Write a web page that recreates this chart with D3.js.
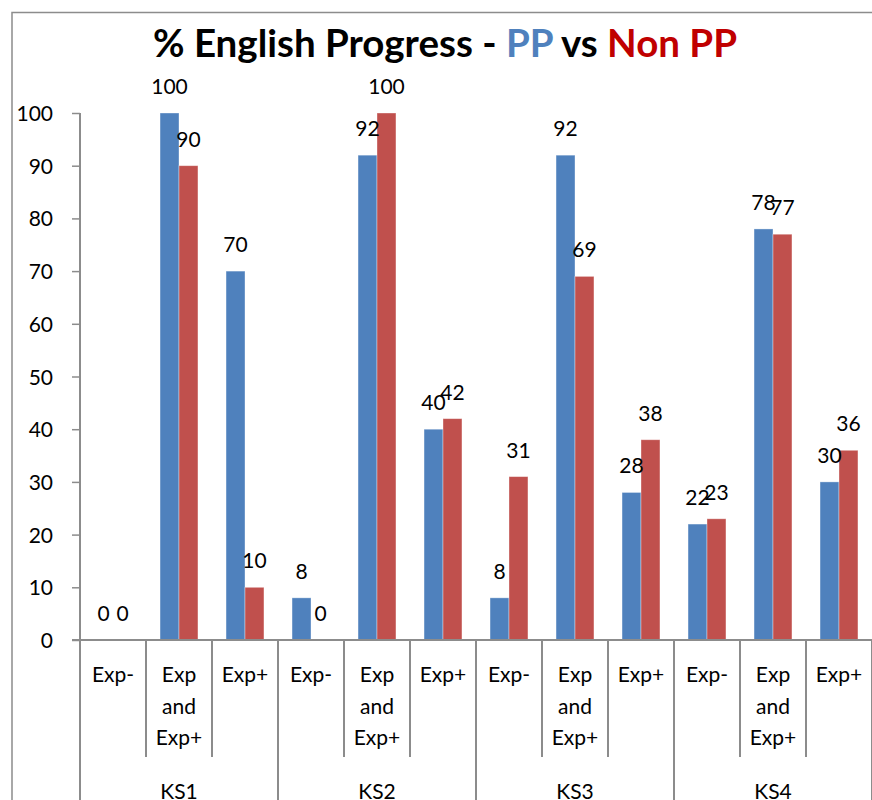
<!DOCTYPE html>
<html>
<head>
<meta charset="utf-8">
<script src="https://cdn.jsdelivr.net/npm/d3@7"></script>
<style>
  body { margin: 0; background: #fff; }
  text { font-family: Lato, "Open Sans", sans-serif; }
</style>
</head>
<body>
<div id="chart-area"></div>
<script>
// data
const groups = ['KS1', 'KS2', 'KS3', 'KS4']
const subLabels = ['Exp-', 'Exp and Exp+', 'Exp+']
const seriesNames = ['PP', 'Non PP']
const ppValues = [0, 100, 70, 8, 92, 40, 8, 92, 28, 22, 78, 30]
const nonPPValues = [0, 90, 10, 0, 100, 42, 31, 69, 38, 23, 77, 36]
const yTicks = [0, 10, 20, 30, 40, 50, 60, 70, 80, 90, 100]

const W = 872, H = 800
const PLOT = { LEFT: 80, RIGHT: 872, TOP: 113, BOTTOM: 640 }
const COLORS = { 'PP': '#4F81BD', 'Non PP': '#C0504D' }
const AXIS = '#8c8c8c'

const svg = d3.select('#chart-area')
  .append('svg')
  .attr('width', W)
  .attr('height', H)

// chart frame (cut off at right and bottom)
svg.append('path')
  .attr('d', `M12,${H + 5}V12.5H${W + 5}`)
  .attr('fill', 'none')
  .attr('stroke', AXIS)
  .attr('stroke-width', 1.5)

// title
const title = svg.append('text')
  .attr('x', 445)
  .attr('y', 57)
  .attr('text-anchor', 'middle')
  .style('font-size', '38.5px')
  .style('font-weight', 'bold')
title.append('tspan').attr('fill', '#000').text('% English Progress - ')
title.append('tspan').attr('fill', '#4F81BD').text('PP')
title.append('tspan').attr('fill', '#000').text(' vs ')
title.append('tspan').attr('fill', '#C00000').text('Non PP')

// flat rows
const cats = []
groups.forEach(g => subLabels.forEach(s => cats.push({ group: g, sub: s, key: g + '|' + s })))
const rows = cats.map((c, i) => ({ ...c, values: [ppValues[i], nonPPValues[i]] }))

const x = d3.scaleBand()
  .domain(cats.map(c => c.key))
  .range([PLOT.LEFT, PLOT.RIGHT])
  .paddingInner(0)
  .paddingOuter(0)

const xs = d3.scaleBand()
  .domain(seriesNames)
  .range([0, x.bandwidth()])
  .paddingInner(0)
  .paddingOuter(0.74)

const y = d3.scaleLinear()
  .domain([0, 100])
  .range([PLOT.BOTTOM, PLOT.TOP])

// y axis
const yAxisGroup = svg.append('g')
  .attr('transform', `translate(${PLOT.LEFT},0)`)
  .call(d3.axisLeft(y).tickValues(yTicks).tickSize(8).tickPadding(19))
yAxisGroup.select('.domain').remove()
yAxisGroup.selectAll('line').attr('stroke', AXIS).attr('stroke-width', 1.5)
yAxisGroup.selectAll('text')
  .style('font-size', '21px')
  .attr('fill', '#000')
  .attr('dy', '0.36em')
yAxisGroup.append('line')
  .attr('y1', PLOT.TOP).attr('y2', PLOT.BOTTOM)
  .attr('stroke', AXIS).attr('stroke-width', 2)

// bars
const catG = svg.selectAll('g.cat')
  .data(rows)
  .enter()
  .append('g')
  .attr('class', 'cat')
  .attr('transform', d => `translate(${x(d.key)},0)`)

catG.selectAll('rect')
  .data(d => d.values.map((v, i) => ({ name: seriesNames[i], value: v })))
  .enter()
  .append('rect')
  .attr('x', d => xs(d.name))
  .attr('y', d => y(d.value))
  .attr('width', xs.bandwidth())
  .attr('height', d => y(0) - y(d.value))
  .attr('fill', d => COLORS[d.name])
  .attr('stroke', '#fff')
  .attr('stroke-opacity', 0.45)
  .attr('stroke-width', 0.8)

// data labels
catG.selectAll('text.lbl')
  .data(d => d.values.map((v, i) => ({ name: seriesNames[i], value: v })))
  .enter()
  .append('text')
  .attr('class', 'lbl')
  .attr('x', d => xs(d.name) + xs.bandwidth() / 2)
  .attr('y', d => y(d.value) - 19)
  .attr('text-anchor', 'middle')
  .style('font-size', '21px')
  .text(d => d.value)

// x axis baseline
svg.append('line')
  .attr('x1', PLOT.LEFT - 8).attr('x2', PLOT.RIGHT + 2)
  .attr('y1', PLOT.BOTTOM).attr('y2', PLOT.BOTTOM)
  .attr('stroke', AXIS).attr('stroke-width', 2)

// category separators: short ones inside groups, long ones between groups
const edges = cats.map((c, i) => ({ x: x(c.key), long: i % subLabels.length === 0 }))
edges.push({ x: PLOT.RIGHT, long: true })
svg.selectAll('line.sep')
  .data(edges)
  .enter()
  .append('line')
  .attr('class', 'sep')
  .attr('x1', d => d.x).attr('x2', d => d.x)
  .attr('y1', PLOT.BOTTOM)
  .attr('y2', d => d.long ? H + 5 : 757)
  .attr('stroke', AXIS)
  .attr('stroke-width', 2)

// sub-category labels, wrapped word by word when too wide
const subText = svg.selectAll('text.sub')
  .data(cats)
  .enter()
  .append('text')
  .attr('class', 'sub')
  .attr('text-anchor', 'middle')
  .attr('x', d => x(d.key) + x.bandwidth() / 2)
  .attr('y', 682)
  .style('font-size', '21px')
subText.each(function (d) {
  const words = d.sub.split(' ').length > 2 ? d.sub.split(' ') : [d.sub]
  words.forEach((w, i) => {
    d3.select(this).append('tspan')
      .attr('x', x(d.key) + x.bandwidth() / 2)
      .attr('y', 682 + i * 31.5)
      .text(w)
  })
})

// group labels
svg.selectAll('text.grp')
  .data(groups)
  .enter()
  .append('text')
  .attr('class', 'grp')
  .attr('text-anchor', 'middle')
  .attr('x', g => {
    const first = x(g + '|' + subLabels[0])
    return first + x.bandwidth() * subLabels.length / 2
  })
  .attr('y', 799)
  .style('font-size', '21px')
  .text(g => g)
</script>
</body>
</html>
